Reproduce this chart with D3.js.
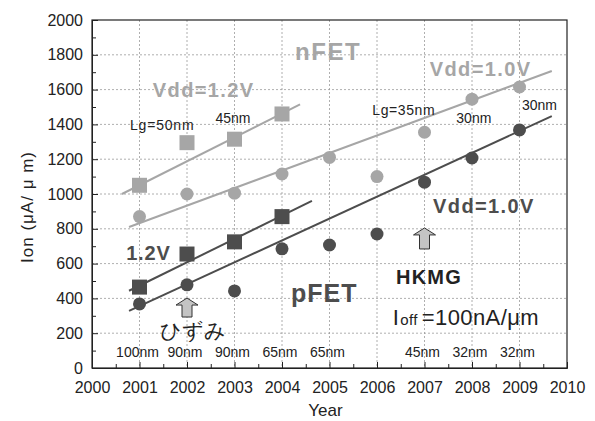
<!DOCTYPE html>
<html>
<head>
<meta charset="utf-8">
<script src="https://cdn.jsdelivr.net/npm/d3@7"></script>
<style>
  body { margin: 0; background: #fff; }
  text { font-family: "Liberation Sans", Arial, sans-serif; }
</style>
</head>
<body>
<svg width="595" height="421"></svg>
<script>
const years      = [2001, 2002, 2003, 2004, 2005, 2006, 2007, 2008, 2009];
const nfet12     = [1050, 1295, 1315, 1460];          // 2001-2004, squares
const nfet10     = [870, 1000, 1005, 1115, 1210, 1100, 1355, 1545, 1615];
const pfet12     = [465, 655, 725, 870];              // 2001-2004, squares
const pfet10     = [368, 478, 443, 685, 707, 770, 1068, 1207, 1368];
const nodeLabels = ["100nm", "90nm", "90nm", "65nm", "65nm", "", "45nm", "32nm", "32nm"];

// trend lines: [year, Ion] end points
const nfet12Fit = [[2000.63, 1000], [2004.38, 1515]];
const nfet10Fit = [[2000.78, 810], [2009.68, 1707]];
const pfet12Fit = [[2000.78, 444], [2004.63, 960]];
const pfet10Fit = [[2000.78, 328], [2009.68, 1448]];

// arrows: year, bottom, top
const arrows = [[2002, 293, 402], [2007, 684, 805]];

const xTicks = d3.range(2000, 2011);
const yTicks = d3.range(0, 2001, 200);

const light = "#a6a6a6";
const dark  = "#4d4d4d";

const svg = d3.select("svg");
const margin = {top: 20, right: 28, bottom: 53, left: 92};
const width  = 595 - margin.left - margin.right;
const height = 421 - margin.top - margin.bottom;

const x = d3.scaleLinear().domain([2000, 2010]).range([0, width]);
const y = d3.scaleLinear().domain([0, 2000]).range([height, 0]);

const g = svg.append("g").attr("transform", `translate(${margin.left},${margin.top})`);

// grid
g.append("g").selectAll("line")
  .data(xTicks.slice(1, -1))
  .join("line")
  .attr("x1", d => x(d)).attr("x2", d => x(d))
  .attr("y1", 0).attr("y2", height)
  .attr("stroke", "#9a9a9a").attr("stroke-width", 0.8).attr("stroke-dasharray", "2,2");

g.append("g").selectAll("line")
  .data(yTicks.slice(1, -1))
  .join("line")
  .attr("y1", d => y(d)).attr("y2", d => y(d))
  .attr("x1", 0).attr("x2", width)
  .attr("stroke", "#9a9a9a").attr("stroke-width", 0.8).attr("stroke-dasharray", "2,2");

// axes (ticks inward)
g.append("g").attr("transform", `translate(0,${height})`)
  .call(d3.axisBottom(x).tickValues(xTicks).tickFormat(d3.format("d")).tickSize(-6).tickPadding(14));
g.append("g").attr("transform", `translate(0,${height})`)
  .call(d3.axisBottom(x).tickValues(d3.range(2000.5, 2010, 1)).tickFormat("").tickSize(-4))
  .call(a => a.select(".domain").remove());
g.append("g")
  .call(d3.axisLeft(y).tickValues(yTicks).tickFormat(d3.format("d")).tickSize(-6).tickPadding(9));
g.append("g")
  .call(d3.axisLeft(y).tickValues(d3.range(100, 2000, 200)).tickFormat("").tickSize(-4))
  .call(a => a.select(".domain").remove());

svg.selectAll(".tick text").attr("font-size", 16).attr("fill", "#222")
  .attr("font-family", "Liberation Sans, Arial, sans-serif");
svg.selectAll(".tick line").attr("stroke", "#222");
svg.selectAll(".domain").attr("stroke", "#222");

// frame top/right
g.append("rect").attr("width", width).attr("height", height)
  .attr("fill", "none").attr("stroke", "#222").attr("stroke-width", 1.2);

// axis titles
svg.append("text").attr("x", margin.left + width / 2 - 4).attr("y", 416)
  .attr("text-anchor", "middle").attr("font-size", 17).attr("fill", "#222").text("Year");
svg.append("text")
  .attr("transform", `translate(33,${207}) rotate(-90)`)
  .attr("text-anchor", "middle").attr("font-size", 17).attr("fill", "#222")
  .attr("letter-spacing", 1).text("Ion (μA/ μ m)");

// trend lines
const line = d3.line().x(d => x(d[0])).y(d => y(d[1]));
[[nfet12Fit, light], [nfet10Fit, light], [pfet12Fit, dark], [pfet10Fit, dark]].forEach(([pts, c]) => {
  g.append("path").datum(pts).attr("d", line)
    .attr("fill", "none").attr("stroke", c).attr("stroke-width", 2);
});

// markers
function squares(vals, color) {
  g.append("g").selectAll("rect")
    .data(vals)
    .join("rect")
    .attr("x", (d, i) => x(years[i]) - 7.5)
    .attr("y", d => y(d) - 7.5)
    .attr("width", 15).attr("height", 15)
    .attr("fill", color);
}
function circles(vals, color) {
  g.append("g").selectAll("circle")
    .data(vals)
    .join("circle")
    .attr("cx", (d, i) => x(years[i]))
    .attr("cy", d => y(d))
    .attr("r", 6.5)
    .attr("fill", color);
}
squares(nfet12, light);
circles(nfet10, light);
squares(pfet12, dark);
circles(pfet10, dark);

// arrows
arrows.forEach(([yr, lo, hi]) => {
  const cx = x(yr), yb = y(lo), yt = y(hi);
  const head = 7;
  const p = d3.path();
  p.moveTo(cx - 5, yb);
  p.lineTo(cx - 5, yt + head);
  p.lineTo(cx - 11, yt + head);
  p.lineTo(cx, yt);
  p.lineTo(cx + 11, yt + head);
  p.lineTo(cx + 5, yt + head);
  p.lineTo(cx + 5, yb);
  p.closePath();
  g.append("path").attr("d", p.toString())
    .attr("fill", "#c4c4c4").attr("stroke", "#333").attr("stroke-width", 1);
});

// node labels along the bottom
g.append("g").selectAll("text")
  .data(nodeLabels)
  .join("text")
  .attr("x", (d, i) => x(years[i]) - 2)
  .attr("y", y(62))
  .attr("text-anchor", "middle").attr("font-size", 14).attr("fill", "#222")
  .text(d => d);

// annotations (data coordinates)
function note(txt, yr, val, opts) {
  const t = g.append("text")
    .attr("x", x(yr)).attr("y", y(val))
    .attr("font-size", opts.size || 14)
    .attr("font-weight", opts.bold ? "bold" : "normal")
    .attr("fill", opts.color || "#222")
    .attr("letter-spacing", opts.ls || 0)
    .attr("text-anchor", opts.anchor || "start")
    .text(txt);
  return t;
}
note("nFET", 2004.97, 1770, {size: 24, bold: true, color: light, ls: 1.5, anchor: "middle"});
note("Vdd=1.2V", 2001.28, 1557, {size: 20, bold: true, color: light, ls: 1.4});
note("Vdd=1.0V", 2007.11, 1680, {size: 20, bold: true, color: light, ls: 1.4});
note("Lg=50nm", 2000.8, 1365, {size: 14, ls: 0.8});
note("45nm", 2002.6, 1410, {size: 14});
note("Lg=35nm", 2005.9, 1455, {size: 14, ls: 0.6});
note("30nm", 2007.67, 1410, {size: 14});
note("30nm", 2009.05, 1480, {size: 14});
note("Vdd=1.0V", 2007.18, 890, {size: 20, bold: true, color: dark, ls: 1.4});
note("1.2V", 2000.72, 620, {size: 20, bold: true, color: dark, ls: 0.8});
note("pFET", 2004.19, 380, {size: 25, bold: true, color: dark, ls: 1});
note("HKMG", 2006.40, 480, {size: 20, bold: true, color: "#222", ls: 1.2});
note("ひずみ", 2001.43, 172, {size: 21, color: "#222"})
  .attr("font-family", "Noto Sans CJK JP, sans-serif");

const ioff = note("I", 2006.33, 250, {size: 22, ls: 0.4});
ioff.append("tspan").attr("font-size", 15).attr("dx", 1).text("off");
ioff.append("tspan").attr("dx", 4).text("=100nA/μm");
</script>
</body>
</html>
